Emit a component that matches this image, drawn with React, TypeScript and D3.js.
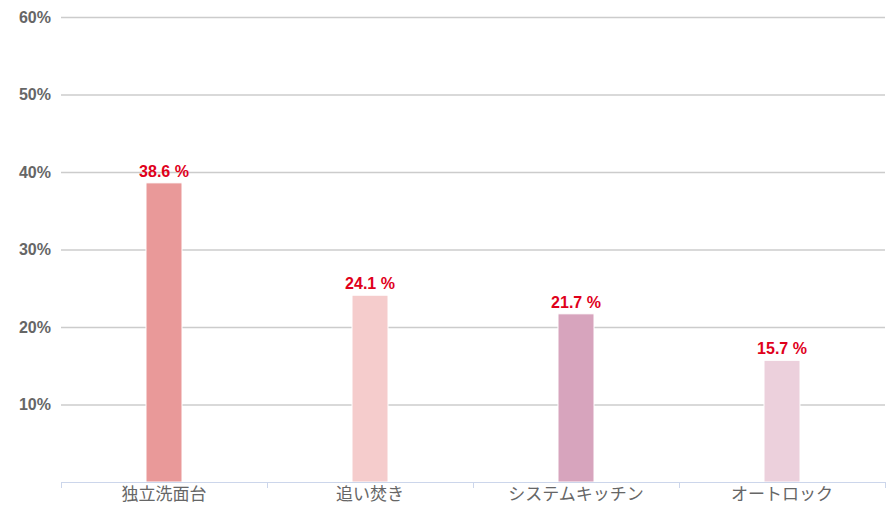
import React from 'react';
import * as d3 from 'd3';

const categories = ['独立洗面台', '追い焚き', 'システムキッチン', 'オートロック'];
const values = [38.6, 24.1, 21.7, 15.7];
const barColors = ['#e99999', '#f5cccc', '#d7a4bd', '#ecd0dc'];
const yTicks = [10, 20, 30, 40, 50, 60];

const width = 886;
const height = 513;
const margin = { top: 17, right: 1, bottom: 31, left: 61 };

const App = () => {
  const x = d3.scaleBand()
    .domain(categories)
    .range([margin.left, width - margin.right]);

  const y = d3.scaleLinear()
    .domain([0, 60])
    .range([height - margin.bottom, margin.top]);

  const barWidth = 36;
  const font = '"Liberation Sans", Arial, sans-serif';
  const tickEdges = [...categories.map(c => x(c) as number), x.range()[1]];

  return (
    <svg width={width} height={height} style={{ position: 'absolute', left: 0, top: 0 }}>
      <g>
        {yTicks.map(t => (
          <g key={t}>
            <line x1={margin.left} x2={width - margin.right} y1={y(t) + 0.5} y2={y(t) + 0.5}
              stroke="#cccccc" strokeWidth={1.5} />
            <text x={51} y={y(t)} dy="0.35em" textAnchor="end"
              style={{ font: `bold 16px ${font}`, fill: '#666666' }}>{t}%</text>
          </g>
        ))}
      </g>
      <g>
        {categories.map((c, i) => {
          const cx = (x(c) as number) + x.bandwidth() / 2;
          return (
            <g key={c}>
              <rect x={cx - barWidth / 2} y={y(values[i])} width={barWidth}
                height={y(0) - y(values[i])} fill={barColors[i]} stroke="#ffffff" strokeWidth={1} />
              <text x={cx} y={y(values[i]) - 6} textAnchor="middle"
                style={{ font: `bold 16px ${font}`, fill: '#e0001b' }}>{values[i].toFixed(1)} %</text>
              <text x={cx} y={y(0) + 18} textAnchor="middle"
                style={{ font: `17px "Noto Sans CJK JP", sans-serif`, fill: '#666666' }}>{c}</text>
            </g>
          );
        })}
      </g>
      <line x1={margin.left} x2={width - margin.right} y1={y(0) + 0.5} y2={y(0) + 0.5} stroke="#ccd6eb" strokeWidth={1} />
      {tickEdges.map((tx, i) => (
        <line key={i} x1={tx + 0.5} x2={tx + 0.5} y1={y(0)} y2={y(0) + 6} stroke="#ccd6eb" strokeWidth={1} />
      ))}
    </svg>
  );
};

export default App;
